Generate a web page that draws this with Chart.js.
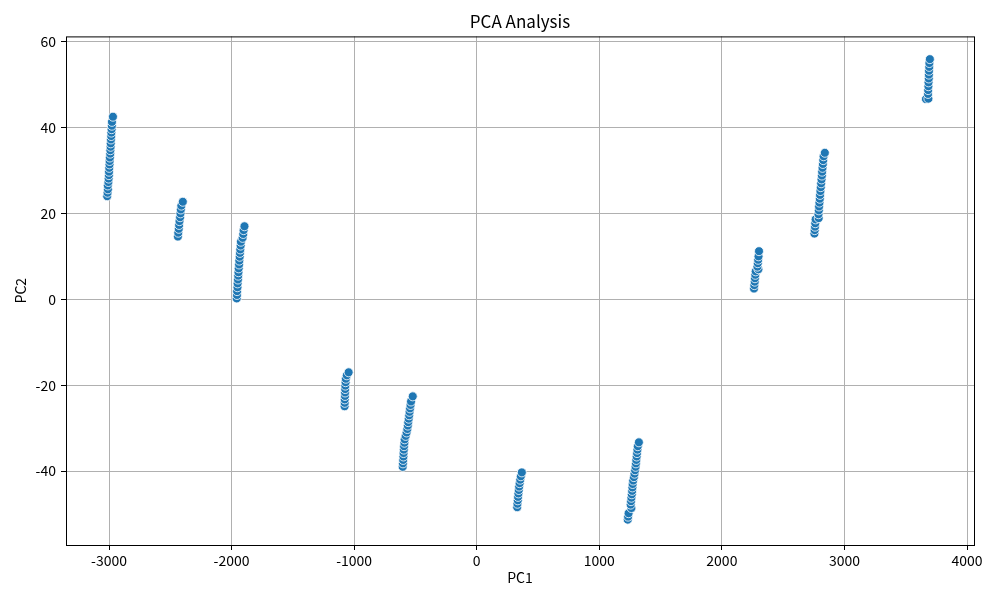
<!DOCTYPE html>
<html>
<head>
<meta charset="utf-8">
<title>PCA Analysis</title>
<script src="https://cdn.jsdelivr.net/npm/chart.js@4.4.1/dist/chart.umd.min.js"></script>
<style>
  html, body { margin: 0; padding: 0; background: #fff; }
  #wrap { width: 1000px; height: 600px; }
</style>
</head>
<body>
<div id="wrap"><canvas id="pcaChart" width="1000" height="600"></canvas></div>
<script>
/************** DATA **************/
const xTicks = [-3000, -2000, -1000, 0, 1000, 2000, 3000, 4000];
const yTicks = [-40, -20, 0, 20, 40, 60];

// groupe 1 (en haut à gauche)
const g1x = [-3015, -3012, -3009, -3010, -3005, -3003, -3001, -3000, -2998, -2996, -2995, -2993, -2990, -2989, -2987, -2986, -2984, -2982, -2981, -2979, -2977, -2976, -2968];
const g1y = [24.0, 24.8, 25.6, 26.5, 27.3, 28.1, 28.9, 29.7, 30.6, 31.4, 32.2, 33.0, 33.9, 34.7, 35.5, 36.3, 37.2, 38.0, 38.8, 39.6, 40.4, 41.3, 42.5];

const g2x = [-2438, -2435, -2431, -2428, -2425, -2420, -2417, -2414, -2410, -2398];
const g2y = [14.6, 15.5, 16.4, 17.3, 18.2, 19.1, 20.0, 20.9, 21.8, 22.7];

const g3x = [-1958, -1956, -1955, -1952, -1951, -1948, -1946, -1944, -1942, -1939, -1937, -1934, -1932, -1929, -1926, -1924, -1910, -1905, -1902, -1895];
const g3y = [0.2, 1.0, 1.9, 2.8, 3.7, 4.6, 5.5, 6.3, 7.2, 8.1, 9.0, 9.9, 10.8, 11.6, 12.5, 13.4, 14.3, 15.2, 16.1, 17.0];

const g4x = [-1078, -1077, -1077, -1075, -1074, -1073, -1072, -1070, -1068, -1060, -1045];
const g4y = [-24.9, -24.1, -23.3, -22.5, -21.7, -20.9, -20.1, -19.3, -18.5, -17.7, -17.0];

const g5x = [-604, -602, -600, -598, -597, -595, -593, -590, -588, -580, -572, -566, -562, -559, -555, -551, -548, -544, -540, -536, -522];
const g5y = [-39.0, -38.2, -37.4, -36.6, -35.8, -35.0, -34.2, -33.4, -32.6, -31.8, -31.0, -30.2, -29.4, -28.6, -27.8, -27.0, -26.2, -25.4, -24.6, -23.8, -22.6];

const g6x = [330, 332, 335, 337, 340, 343, 346, 350, 355, 360, 368];
const g6y = [-48.4, -47.6, -46.8, -46.0, -45.2, -44.4, -43.6, -42.8, -42.0, -41.2, -40.3];

const g7x = [1232, 1235, 1239, 1262, 1256, 1259, 1262, 1265, 1268, 1270, 1272, 1276, 1282, 1287, 1292, 1296, 1299, 1302, 1305, 1308, 1311, 1314, 1323];
const g7y = [-51.3, -50.6, -49.8, -48.6, -47.8, -47.0, -46.2, -45.4, -44.6, -43.8, -43.0, -42.2, -41.4, -40.6, -39.8, -39.0, -38.2, -37.4, -36.6, -35.8, -35.0, -34.2, -33.3];

const g8x = [2262, 2265, 2268, 2270, 2273, 2276, 2298, 2290, 2293, 2296, 2299, 2303];
const g8y = [2.5, 3.3, 4.1, 4.9, 5.7, 6.5, 7.0, 7.6, 8.4, 9.2, 10.0, 11.2];

const g9x = [2755, 2757, 2760, 2762, 2765, 2790, 2788, 2791, 2793, 2796, 2799, 2801, 2804, 2807, 2810, 2813, 2816, 2818, 2821, 2824, 2827, 2830, 2840];
const g9y = [15.3, 16.1, 16.9, 17.7, 18.6, 18.9, 19.8, 20.7, 21.6, 22.5, 23.4, 24.3, 25.2, 26.1, 27.0, 27.9, 28.8, 29.7, 30.6, 31.5, 32.4, 33.3, 34.1];

const g10x = [3665, 3685, 3682, 3683, 3685, 3686, 3688, 3689, 3690, 3692, 3693, 3697];
const g10y = [46.6, 46.7, 47.8, 48.7, 49.6, 50.5, 51.4, 52.3, 53.2, 54.1, 55.0, 55.9];

const groupsX = [g1x, g2x, g3x, g4x, g5x, g6x, g7x, g8x, g9x, g10x];
const groupsY = [g1y, g2y, g3y, g4y, g5y, g6y, g7y, g8y, g9y, g10y];

/************** CHART **************/
const FONT = "'Noto Sans CJK JP', 'Noto Sans', sans-serif";

const points = [];
groupsX.forEach((gx, i) => {
  gx.forEach((v, j) => points.push({ x: v, y: groupsY[i][j] }));
});

// cadre noir autour de la zone de tracé
const framePlugin = {
  id: "frame",
  afterDatasetsDraw(chart) {
    const { ctx, chartArea: a } = chart;
    ctx.save();
    ctx.strokeStyle = "#000";
    ctx.lineWidth = 1;
    ctx.strokeRect(a.left + 0.5, a.top + 0.5, a.right - a.left, a.bottom - a.top);
    ctx.restore();
  }
};

const ctx = document.getElementById("pcaChart").getContext("2d");

new Chart(ctx, {
  type: "scatter",
  data: {
    datasets: [{
      label: "PCA",
      data: points,
      backgroundColor: "#1f77b4",
      borderColor: "#ffffff",
      borderWidth: 0.8,
      pointRadius: 4.5,
      pointHoverRadius: 4.5
    }]
  },
  options: {
    responsive: false,
    animation: false,
    layout: { padding: { top: 0, right: 26, bottom: 0, left: 0 } },
    plugins: {
      legend: { display: false },
      tooltip: { enabled: false },
      title: {
        display: true,
        fullSize: false,
        text: "PCA Analysis",
        color: "#000",
        font: { family: FONT, size: 17, weight: "normal" },
        padding: { top: 11, bottom: 5 }
      }
    },
    scales: {
      x: {
        type: "linear",
        min: -3351,
        max: 4057,
        afterBuildTicks: axis => { axis.ticks = xTicks.map(v => ({ value: v })); },
        afterFit: axis => { axis.height = 55; },
        grid: { color: "#b0b0b0", lineWidth: 1, tickColor: "#000", tickLength: 5 },
        border: { display: false },
        ticks: { color: "#000", padding: 2, font: { family: FONT, size: 14 }, callback: v => String(v) },
        title: {
          display: true,
          text: "PC1",
          color: "#000",
          font: { family: FONT, size: 14 },
          padding: { top: 0, bottom: 14 }
        }
      },
      y: {
        type: "linear",
        min: -57.2,
        max: 61.2,
        afterBuildTicks: axis => { axis.ticks = yTicks.map(v => ({ value: v })); },
        afterFit: axis => { axis.width = 66; },
        grid: { color: "#b0b0b0", lineWidth: 1, tickColor: "#000", tickLength: 5 },
        border: { display: false },
        ticks: { color: "#000", padding: 5, font: { family: FONT, size: 14 }, callback: v => String(v) },
        title: {
          display: true,
          text: "PC2",
          color: "#000",
          font: { family: FONT, size: 14 },
          padding: { top: 12, bottom: 0 }
        }
      }
    }
  },
  plugins: [framePlugin]
});
</script>
</body>
</html>
